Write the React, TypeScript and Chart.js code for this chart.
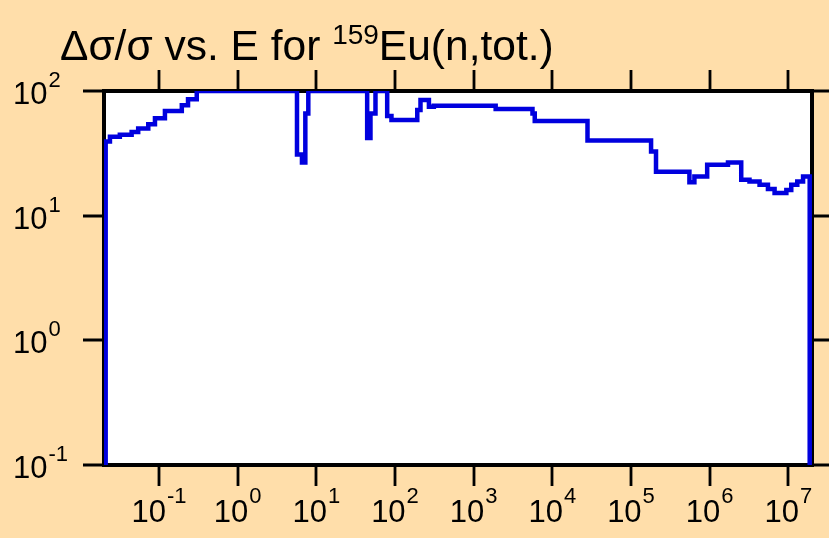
import React, { useEffect, useRef } from 'react';
import { Chart, registerables } from 'chart.js';

Chart.register(...registerables);

// Energy grid (eV) where each histogram step starts
const energies = [
  0.021, 0.021, 0.0238, 0.0318, 0.0449, 0.0544, 0.0731, 0.0889, 0.119, 0.195,
  0.234, 0.302, 5.68, 6.57, 7.25, 7.91, 44.3, 48.8, 56.5, 79.6,
  90.2, 192, 211, 270, 312, 1905, 5595, 5980, 28000, 180000,
  208000, 553000, 640000, 930000, 1710000, 2520000, 3210000, 4310000, 5510000, 6690000,
  9440000, 10900000, 13000000, 15400000, 18700000,
];
// Relative uncertainty Δσ/σ (%) for each step
const uncertainty = [
  0.1, 39.3, 43, 44.5, 47, 50, 54, 60.5, 69, 77,
  86, 100, 31, 26.7, 66, 100, 42, 66, 100, 63,
  58.6, 70.5, 84.7, 74.8, 76.3, 71.8, 66, 57.5, 40, 32.7,
  22.5, 18.5, 20.6, 25.6, 26.7, 19.4, 18.8, 17.7, 16.4, 15.2,
  16.1, 17.7, 18.8, 20.6, 0.1,
];

const xTickExponents = [-1, 0, 1, 2, 3, 4, 5, 6, 7];
const yTickExponents = [-1, 0, 1, 2];
const xRange = [0.02, 2e7];
const yRange = [0.1, 100];

const titleMain = 'Δσ/σ vs. E for ';
const titleSup = '159';
const titleRest = 'Eu(n,tot.)';

const FONT = '"Liberation Sans", Arial, Helvetica, sans-serif';

const framePlugin = {
  id: 'frameTicks',
  beforeDatasetsDraw(chart: any) {
    const { ctx, chartArea: a, scales } = chart;
    ctx.save();
    ctx.fillStyle = '#ffffff';
    ctx.fillRect(a.left, a.top, a.right - a.left, a.bottom - a.top);

    ctx.strokeStyle = '#000000';
    ctx.lineWidth = 2.8;
    const tl = 21;
    ctx.beginPath();
    xTickExponents.forEach((e) => {
      const x = Math.round(scales.x.getPixelForValue(Math.pow(10, e)));
      ctx.moveTo(x, a.top - tl);
      ctx.lineTo(x, a.top);
      ctx.moveTo(x, a.bottom);
      ctx.lineTo(x, a.bottom + tl);
    });
    yTickExponents.forEach((e) => {
      const y = Math.round(scales.y.getPixelForValue(Math.pow(10, e)));
      ctx.moveTo(a.left - tl, y);
      ctx.lineTo(a.left, y);
      ctx.moveTo(a.right, y);
      ctx.lineTo(a.right + tl, y);
    });
    ctx.stroke();

    ctx.lineWidth = 4;
    ctx.strokeRect(a.left, a.top, a.right - a.left, a.bottom - a.top);

    // tick labels
    ctx.fillStyle = '#000000';
    ctx.textBaseline = 'alphabetic';
    ctx.textAlign = 'left';
    const ySize = 31;
    const yExp = 22;
    yTickExponents.forEach((e) => {
      const y = scales.y.getPixelForValue(Math.pow(10, e));
      ctx.font = `${ySize}px ${FONT}`;
      const w = ctx.measureText('10').width;
      ctx.fillText('10', 13, y + 13);
      ctx.font = `${yExp}px ${FONT}`;
      ctx.fillText(String(e), 13 + w + 1, y - 4);
    });
    const xSize = 31;
    const xExp = 22;
    xTickExponents.forEach((e) => {
      const x = scales.x.getPixelForValue(Math.pow(10, e));
      ctx.font = `${xSize}px ${FONT}`;
      const w = ctx.measureText('10').width;
      ctx.font = `${xExp}px ${FONT}`;
      const we = ctx.measureText(String(e)).width;
      const start = x - (w + 1 + we) / 2;
      ctx.font = `${xSize}px ${FONT}`;
      ctx.fillText('10', start, 522);
      ctx.font = `${xExp}px ${FONT}`;
      ctx.fillText(String(e), start + w + 1, 503);
    });

    // title
    ctx.font = `42.5px ${FONT}`;
    let tx = 60;
    ctx.fillText(titleMain, tx, 60);
    tx += ctx.measureText(titleMain).width;
    ctx.font = `28px ${FONT}`;
    ctx.fillText(titleSup, tx, 44);
    tx += ctx.measureText(titleSup).width;
    ctx.font = `42.5px ${FONT}`;
    ctx.fillText(titleRest, tx, 60);
    ctx.restore();
  },
};

export default function App() {
  const ref = useRef<HTMLCanvasElement | null>(null);
  useEffect(() => {
    if (!ref.current) return;
    const points = energies.map((e, i) => ({ x: e, y: uncertainty[i] }));
    const chart = new Chart(ref.current, {
      type: 'line',
      data: {
        datasets: [
          {
            data: points,
            borderColor: 'rgb(0,0,222)',
            borderWidth: 4.5,
            pointRadius: 0,
            stepped: 'before',
            fill: false,
          },
        ],
      },
      options: {
        animation: false,
        responsive: false,
        maintainAspectRatio: false,
        devicePixelRatio: 1,
        layout: { padding: { left: 104, right: 17, top: 91, bottom: 73 } },
        plugins: { legend: { display: false }, tooltip: { enabled: false }, title: { display: false } },
        scales: {
          x: { type: 'logarithmic', min: xRange[0], max: xRange[1], display: false },
          y: { type: 'logarithmic', min: yRange[0], max: yRange[1], display: false },
        },
      },
      plugins: [framePlugin],
    });
    return () => chart.destroy();
  }, []);
  return (
    <div style={{ position: 'fixed', left: 0, top: 0, width: 829, height: 538, background: '#FFDEAA' }}>
      <canvas ref={ref} width={829} height={538} style={{ display: 'block', width: 829, height: 538 }} />
    </div>
  );
}
